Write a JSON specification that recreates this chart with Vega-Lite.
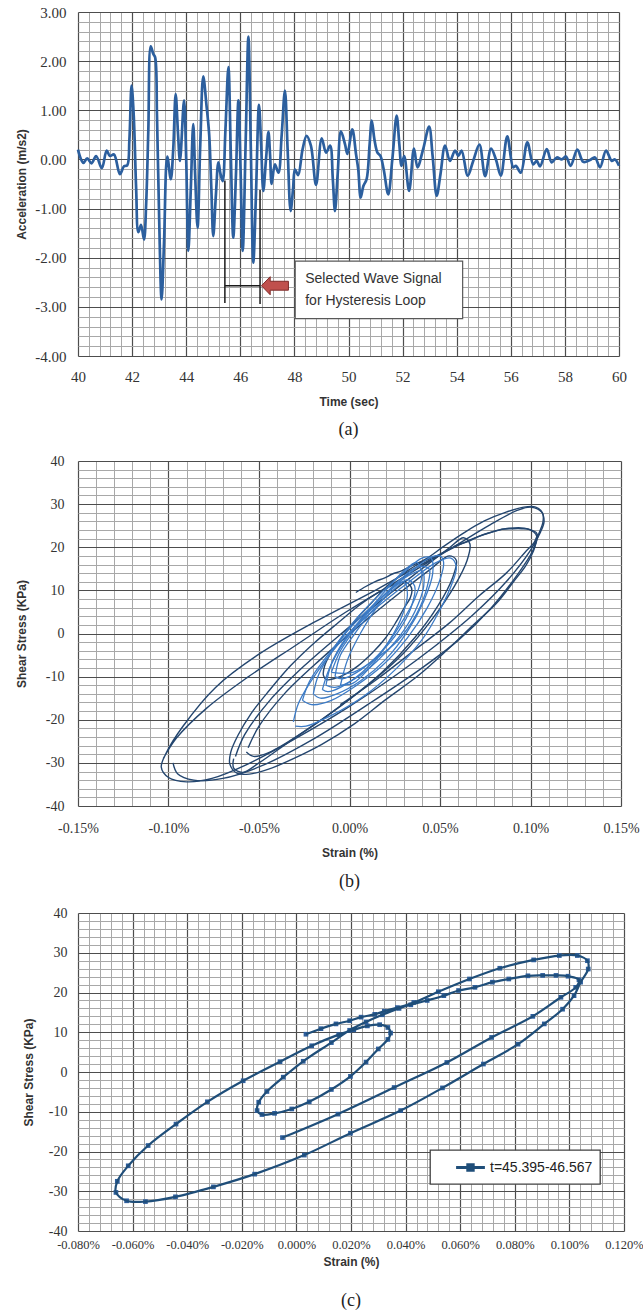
{
"$schema": "https://vega.github.io/schema/vega-lite/v6.json",
"background": "white",
"padding": {"left": 15, "top": 5, "right": 0, "bottom": 0},
"config": {"view": {"stroke": null}},
"datasets": {
"acc": [
{"t":40.00,"a":0.2},{"t":40.10,"a":0.02},{"t":40.20,"a":-0.07},{"t":40.34,"a":0.02},{"t":40.50,"a":-0.08},{"t":40.67,"a":0.07},{"t":40.88,"a":-0.18},{"t":41.06,"a":0.18},{"t":41.18,"a":0.07},{"t":41.33,"a":0.1},{"t":41.55,"a":-0.3},{"t":41.70,"a":-0.14},{"t":41.82,"a":-0.12},{"t":41.90,"a":0.4},{"t":41.98,"a":1.5},{"t":42.06,"a":0.9},{"t":42.15,"a":-0.6},{"t":42.23,"a":-1.48},{"t":42.33,"a":-1.33},{"t":42.44,"a":-1.63},{"t":42.52,"a":-0.9},{"t":42.60,"a":0.6},{"t":42.69,"a":2.3},{"t":42.78,"a":2.15},{"t":42.85,"a":2.08},{"t":42.92,"a":0.9},{"t":43.00,"a":-1.2},{"t":43.09,"a":-2.85},{"t":43.18,"a":-1.7},{"t":43.30,"a":0.06},{"t":43.43,"a":-0.4},{"t":43.52,"a":0.2},{"t":43.61,"a":1.33},{"t":43.70,"a":0.5},{"t":43.77,"a":-0.03},{"t":43.92,"a":1.2},{"t":44.00,"a":0.0},{"t":44.08,"a":-1.86},{"t":44.17,"a":-0.6},{"t":44.26,"a":0.72},{"t":44.33,"a":-0.3},{"t":44.42,"a":-1.39},{"t":44.52,"a":0.3},{"t":44.63,"a":1.69},{"t":44.75,"a":1.1},{"t":44.85,"a":0.5},{"t":44.93,"a":-0.6},{"t":45.00,"a":-1.56},{"t":45.10,"a":-0.7},{"t":45.19,"a":-0.06},{"t":45.27,"a":-0.3},{"t":45.35,"a":-0.44},{"t":45.45,"a":0.6},{"t":45.56,"a":1.88},{"t":45.65,"a":0.1},{"t":45.74,"a":-1.59},{"t":45.84,"a":-0.3},{"t":45.93,"a":1.2},{"t":46.01,"a":-0.2},{"t":46.09,"a":-1.86},{"t":46.20,"a":0.4},{"t":46.30,"a":2.5},{"t":46.39,"a":0.2},{"t":46.48,"a":-2.1},{"t":46.58,"a":-0.7},{"t":46.69,"a":1.11},{"t":46.77,"a":0.3},{"t":46.85,"a":-0.64},{"t":46.95,"a":0.0},{"t":47.04,"a":0.56},{"t":47.10,"a":0.1},{"t":47.16,"a":-0.5},{"t":47.28,"a":-0.1},{"t":47.41,"a":-0.27},{"t":47.53,"a":0.5},{"t":47.65,"a":1.4},{"t":47.75,"a":0.2},{"t":47.86,"a":-1.05},{"t":47.95,"a":-0.6},{"t":48.02,"a":-0.2},{"t":48.14,"a":-0.32},{"t":48.30,"a":0.2},{"t":48.45,"a":0.48},{"t":48.61,"a":0.28},{"t":48.80,"a":-0.52},{"t":49.01,"a":0.43},{"t":49.17,"a":0.14},{"t":49.32,"a":0.28},{"t":49.42,"a":-0.4},{"t":49.50,"a":-1.05},{"t":49.60,"a":-0.3},{"t":49.72,"a":0.57},{"t":49.87,"a":0.31},{"t":49.96,"a":0.11},{"t":50.14,"a":0.61},{"t":50.28,"a":0.1},{"t":50.36,"a":-0.2},{"t":50.45,"a":-0.78},{"t":50.55,"a":-0.54},{"t":50.67,"a":-0.4},{"t":50.78,"a":0.3},{"t":50.86,"a":0.79},{"t":50.96,"a":0.4},{"t":51.07,"a":0.14},{"t":51.18,"a":0.07},{"t":51.30,"a":-0.2},{"t":51.47,"a":-0.71},{"t":51.62,"a":0.0},{"t":51.78,"a":0.89},{"t":51.88,"a":0.3},{"t":51.96,"a":-0.13},{"t":52.06,"a":0.07},{"t":52.24,"a":-0.64},{"t":52.42,"a":0.22},{"t":52.55,"a":-0.16},{"t":52.76,"a":0.21},{"t":52.98,"a":0.67},{"t":53.11,"a":0.07},{"t":53.26,"a":-0.74},{"t":53.40,"a":-0.3},{"t":53.57,"a":0.28},{"t":53.75,"a":-0.03},{"t":53.94,"a":0.18},{"t":54.06,"a":0.07},{"t":54.18,"a":0.18},{"t":54.41,"a":-0.33},{"t":54.61,"a":-0.03},{"t":54.84,"a":0.3},{"t":55.05,"a":-0.34},{"t":55.27,"a":0.22},{"t":55.45,"a":0.0},{"t":55.63,"a":-0.33},{"t":55.87,"a":0.47},{"t":56.09,"a":-0.16},{"t":56.19,"a":-0.13},{"t":56.37,"a":-0.27},{"t":56.61,"a":0.35},{"t":56.83,"a":-0.1},{"t":56.96,"a":-0.03},{"t":57.08,"a":-0.14},{"t":57.33,"a":0.21},{"t":57.51,"a":-0.06},{"t":57.70,"a":0.04},{"t":57.88,"a":0.0},{"t":58.04,"a":0.06},{"t":58.21,"a":-0.13},{"t":58.46,"a":0.2},{"t":58.68,"a":-0.05},{"t":58.93,"a":-0.01},{"t":59.11,"a":0.04},{"t":59.30,"a":-0.16},{"t":59.52,"a":0.18},{"t":59.73,"a":-0.03},{"t":59.85,"a":0.0},{"t":60.00,"a":-0.13}
],
"bracket": [
{"t1":45.43,"t2":45.43,"a1":-0.43,"a2":-2.92},
{"t1":46.73,"t2":46.73,"a1":-0.62,"a2":-2.94},
{"t1":45.43,"t2":46.73,"a1":-2.57,"a2":-2.57}
],
"arrow": [{"t":47.28,"a":-2.57}],
"box": [{"t1":48.03,"t2":54.22,"a1":-2.07,"a2":-3.24}],
"boxtext": [{"t":48.4,"a":-2.43,"label":"Selected Wave Signal"},{"t":48.4,"a":-2.88,"label":"for Hysteresis Loop"}],
"b_big": [
{"k":"L1","x":-0.1029,"y":-29.0},{"k":"L1","x":-0.0955,"y":-24.2},{"k":"L1","x":-0.0789,"y":-17.3},{"k":"L1","x":-0.0568,"y":-10.3},{"k":"L1","x":-0.0292,"y":-2.6},{"k":"L1","x":-0.0015,"y":5.1},{"k":"L1","x":0.0261,"y":12.1},{"k":"L1","x":0.0537,"y":19.1},{"k":"L1","x":0.0776,"y":25.2},{"k":"L1","x":0.0930,"y":28.6},{"k":"L1","x":0.1000,"y":29.3},{"k":"L1","x":0.1060,"y":28.2},{"k":"L1","x":0.1075,"y":26.0},{"k":"L1","x":0.1055,"y":23.5},{"k":"L1","x":0.0997,"y":19.1},{"k":"L1","x":0.0868,"y":12.1},{"k":"L1","x":0.0684,"y":4.4},{"k":"L1","x":0.0482,"y":-2.6},{"k":"L1","x":0.0261,"y":-9.5},{"k":"L1","x":-0.0015,"y":-17.3},{"k":"L1","x":-0.0292,"y":-24.2},{"k":"L1","x":-0.0568,"y":-30.4},{"k":"L1","x":-0.0760,"y":-33.6},{"k":"L1","x":-0.0900,"y":-34.4},{"k":"L1","x":-0.1000,"y":-33.4},{"k":"L1","x":-0.1040,"y":-31.0},{"k":"L1","x":-0.1010,"y":-27.5},{"k":"L1","x":-0.0920,"y":-21.5},{"k":"L1","x":-0.0740,"y":-12.5},{"k":"L1","x":-0.0500,"y":-4.8},{"k":"L1","x":-0.0200,"y":2.5},{"k":"L1","x":0.0150,"y":10.2},{"k":"L1","x":0.0450,"y":17.2},{"k":"L1","x":0.0700,"y":22.3},{"k":"L1","x":0.0880,"y":24.4},{"k":"L1","x":0.0990,"y":24.2},{"k":"L1","x":0.1035,"y":22.5},{"k":"L1","x":0.1010,"y":19.0},{"k":"L1","x":0.0920,"y":13.2},{"k":"L1","x":0.0780,"y":5.8},{"k":"L1","x":0.0600,"y":-1.6},{"k":"L1","x":0.0380,"y":-8.6},{"k":"L1","x":0.0100,"y":-16.5},{"k":"L1","x":-0.0200,"y":-24.5},{"k":"L1","x":-0.0480,"y":-30.6},{"k":"L1","x":-0.0700,"y":-33.6},{"k":"L1","x":-0.0860,"y":-34.0},{"k":"L1","x":-0.0950,"y":-32.5},{"k":"L1","x":-0.0975,"y":-30.0},
{"k":"M2","x":-0.063,"y":-28.5},{"k":"M2","x":-0.058,"y":-23.5},{"k":"M2","x":-0.044,"y":-15.5},{"k":"M2","x":-0.025,"y":-7.5},{"k":"M2","x":-0.003,"y":0.5},{"k":"M2","x":0.020,"y":8.5},{"k":"M2","x":0.040,"y":15.0},{"k":"M2","x":0.055,"y":19.8},{"k":"M2","x":0.063,"y":22.2},{"k":"M2","x":0.0665,"y":20.8},{"k":"M2","x":0.065,"y":17.0},{"k":"M2","x":0.058,"y":11.0},{"k":"M2","x":0.046,"y":3.5},{"k":"M2","x":0.030,"y":-4.5},{"k":"M2","x":0.010,"y":-12.0},{"k":"M2","x":-0.012,"y":-19.0},{"k":"M2","x":-0.033,"y":-25.0},{"k":"M2","x":-0.050,"y":-30.0},{"k":"M2","x":-0.059,"y":-32.2},{"k":"M2","x":-0.064,"y":-31.2},{"k":"M2","x":-0.064,"y":-29.0},
{"k":"M3","x":-0.056,"y":-26.5},{"k":"M3","x":-0.050,"y":-21.5},{"k":"M3","x":-0.036,"y":-14.0},{"k":"M3","x":-0.016,"y":-6.0},{"k":"M3","x":0.006,"y":2.0},{"k":"M3","x":0.028,"y":9.5},{"k":"M3","x":0.045,"y":15.0},{"k":"M3","x":0.055,"y":18.0},{"k":"M3","x":0.059,"y":17.0},{"k":"M3","x":0.057,"y":13.0},{"k":"M3","x":0.049,"y":6.5},{"k":"M3","x":0.036,"y":-1.0},{"k":"M3","x":0.018,"y":-9.0},{"k":"M3","x":-0.004,"y":-16.5},{"k":"M3","x":-0.026,"y":-23.0},{"k":"M3","x":-0.044,"y":-27.5},{"k":"M3","x":-0.053,"y":-28.5},{"k":"M3","x":-0.057,"y":-27.5}
],
"b_small": [
{"k":"S1","x":-0.031,"y":-20.5},{"k":"S1","x":-0.028,"y":-16.0},{"k":"S1","x":-0.018,"y":-9.0},{"k":"S1","x":-0.003,"y":-1.0},{"k":"S1","x":0.015,"y":6.0},{"k":"S1","x":0.033,"y":12.0},{"k":"S1","x":0.048,"y":16.5},{"k":"S1","x":0.056,"y":17.5},{"k":"S1","x":0.059,"y":15.5},{"k":"S1","x":0.057,"y":12.0},{"k":"S1","x":0.050,"y":5.5},{"k":"S1","x":0.040,"y":-1.5},{"k":"S1","x":0.025,"y":-8.5},{"k":"S1","x":0.008,"y":-14.5},{"k":"S1","x":-0.010,"y":-19.0},{"k":"S1","x":-0.024,"y":-21.5},{"k":"S1","x":-0.030,"y":-21.5},
{"k":"S2","x":-0.026,"y":-15.5},{"k":"S2","x":-0.022,"y":-11.0},{"k":"S2","x":-0.012,"y":-5.0},{"k":"S2","x":0.002,"y":2.0},{"k":"S2","x":0.018,"y":8.5},{"k":"S2","x":0.032,"y":13.5},{"k":"S2","x":0.044,"y":17.5},{"k":"S2","x":0.050,"y":18.0},{"k":"S2","x":0.052,"y":16.5},{"k":"S2","x":0.050,"y":12.5},{"k":"S2","x":0.043,"y":6.0},{"k":"S2","x":0.032,"y":-1.0},{"k":"S2","x":0.018,"y":-7.5},{"k":"S2","x":0.004,"y":-12.0},{"k":"S2","x":-0.010,"y":-15.5},{"k":"S2","x":-0.021,"y":-16.5},{"k":"S2","x":-0.026,"y":-15.5},
{"k":"S3","x":-0.020,"y":-14.0},{"k":"S3","x":-0.017,"y":-9.5},{"k":"S3","x":-0.008,"y":-3.0},{"k":"S3","x":0.005,"y":4.0},{"k":"S3","x":0.019,"y":10.0},{"k":"S3","x":0.031,"y":14.5},{"k":"S3","x":0.040,"y":17.5},{"k":"S3","x":0.045,"y":17.5},{"k":"S3","x":0.046,"y":14.0},{"k":"S3","x":0.041,"y":7.5},{"k":"S3","x":0.032,"y":0.5},{"k":"S3","x":0.020,"y":-6.0},{"k":"S3","x":0.006,"y":-11.0},{"k":"S3","x":-0.007,"y":-14.0},{"k":"S3","x":-0.016,"y":-15.0},{"k":"S3","x":-0.020,"y":-14.0},
{"k":"C1","x":-0.013,"y":-12.0},{"k":"C1","x":-0.010,"y":-7.0},{"k":"C1","x":-0.002,"y":-1.0},{"k":"C1","x":0.010,"y":5.0},{"k":"C1","x":0.022,"y":10.0},{"k":"C1","x":0.033,"y":13.5},{"k":"C1","x":0.040,"y":14.5},{"k":"C1","x":0.041,"y":11.0},{"k":"C1","x":0.036,"y":5.0},{"k":"C1","x":0.027,"y":-1.0},{"k":"C1","x":0.015,"y":-6.5},{"k":"C1","x":0.003,"y":-10.5},{"k":"C1","x":-0.008,"y":-12.5},{"k":"C1","x":-0.013,"y":-12.0},
{"k":"C2","x":-0.008,"y":-10.0},{"k":"C2","x":-0.005,"y":-5.0},{"k":"C2","x":0.003,"y":0.0},{"k":"C2","x":0.013,"y":5.5},{"k":"C2","x":0.024,"y":10.0},{"k":"C2","x":0.032,"y":12.5},{"k":"C2","x":0.036,"y":11.0},{"k":"C2","x":0.034,"y":6.0},{"k":"C2","x":0.027,"y":0.5},{"k":"C2","x":0.017,"y":-4.5},{"k":"C2","x":0.006,"y":-8.5},{"k":"C2","x":-0.004,"y":-10.5},{"k":"C2","x":-0.008,"y":-10.0},
{"k":"C3","x":-0.015,"y":-13.0},{"k":"C3","x":-0.011,"y":-8.0},{"k":"C3","x":-0.003,"y":-2.0},{"k":"C3","x":0.008,"y":4.0},{"k":"C3","x":0.020,"y":10.0},{"k":"C3","x":0.030,"y":14.5},{"k":"C3","x":0.037,"y":16.5},{"k":"C3","x":0.040,"y":14.0},{"k":"C3","x":0.036,"y":8.0},{"k":"C3","x":0.028,"y":2.0},{"k":"C3","x":0.018,"y":-4.0},{"k":"C3","x":0.007,"y":-9.0},{"k":"C3","x":-0.005,"y":-12.5},{"k":"C3","x":-0.012,"y":-13.5},{"k":"C3","x":-0.015,"y":-13.0},
{"k":"C4","x":-0.005,"y":-12.0},{"k":"C4","x":-0.001,"y":-6.0},{"k":"C4","x":0.006,"y":0.0},{"k":"C4","x":0.015,"y":6.0},{"k":"C4","x":0.024,"y":10.5},{"k":"C4","x":0.030,"y":12.0},{"k":"C4","x":0.032,"y":9.0},{"k":"C4","x":0.028,"y":3.0},{"k":"C4","x":0.020,"y":-3.0},{"k":"C4","x":0.011,"y":-8.0},{"k":"C4","x":0.002,"y":-11.5},{"k":"C4","x":-0.005,"y":-12.0},
{"k":"C5","x":-0.010,"y":-9.0},{"k":"C5","x":-0.005,"y":-4.0},{"k":"C5","x":0.004,"y":1.5},{"k":"C5","x":0.016,"y":7.5},{"k":"C5","x":0.028,"y":12.5},{"k":"C5","x":0.038,"y":15.5},{"k":"C5","x":0.044,"y":15.0},{"k":"C5","x":0.043,"y":11.0},{"k":"C5","x":0.037,"y":4.5},{"k":"C5","x":0.027,"y":-1.5},{"k":"C5","x":0.014,"y":-6.0},{"k":"C5","x":0.002,"y":-9.0},{"k":"C5","x":-0.010,"y":-9.0}
],
"c_path": [
{"x":-0.0051,"y":-16.5},{"x":0.0152,"y":-10.6},{"x":0.0358,"y":-3.9},{"x":0.0551,"y":2.4},{"x":0.0715,"y":8.7},{"x":0.0866,"y":14.0},{"x":0.0969,"y":18.8},{"x":0.1023,"y":21.3},{"x":0.1035,"y":23.2},{"x":0.0995,"y":24.1},{"x":0.0951,"y":24.3},{"x":0.0902,"y":24.3},{"x":0.0848,"y":24.2},{"x":0.0778,"y":23.4},{"x":0.0718,"y":22.6},{"x":0.0654,"y":21.3},{"x":0.0594,"y":20.5},{"x":0.054,"y":19.2},{"x":0.0479,"y":18.0},{"x":0.0419,"y":16.9},{"x":0.0376,"y":16.0},{"x":0.0315,"y":14.4},{"x":0.0255,"y":12.6},{"x":0.0195,"y":10.5},{"x":0.0128,"y":7.4},{"x":0.0025,"y":2.7},{"x":-0.0048,"y":-1.3},{"x":-0.0108,"y":-4.9},{"x":-0.0138,"y":-7.6},{"x":-0.0144,"y":-9.7},{"x":-0.0126,"y":-10.7},{"x":-0.0080,"y":-10.4},{"x":-0.0017,"y":-9.3},{"x":0.0047,"y":-7.5},{"x":0.0128,"y":-4.4},{"x":0.0198,"y":-1.1},{"x":0.0255,"y":2.5},{"x":0.0300,"y":5.8},{"x":0.0335,"y":8.2},{"x":0.0345,"y":9.8},{"x":0.0335,"y":11.2},{"x":0.0305,"y":11.9},{"x":0.0260,"y":11.6},{"x":0.0210,"y":10.6},{"x":0.0155,"y":9.4},{"x":0.0056,"y":6.6},{"x":-0.0060,"y":2.6},{"x":-0.0195,"y":-2.2},{"x":-0.0326,"y":-7.5},{"x":-0.0441,"y":-13.1},{"x":-0.0543,"y":-18.5},{"x":-0.0616,"y":-23.6},{"x":-0.0656,"y":-27.5},{"x":-0.0661,"y":-30.3},{"x":-0.0622,"y":-32.4},{"x":-0.0553,"y":-32.6},{"x":-0.0443,"y":-31.4},{"x":-0.0304,"y":-28.9},{"x":-0.0153,"y":-25.7},{"x":0.0029,"y":-20.9},{"x":0.0198,"y":-15.4},{"x":0.0382,"y":-9.7},{"x":0.0535,"y":-4.0},{"x":0.0685,"y":2.0},{"x":0.0812,"y":7.0},{"x":0.0908,"y":12.1},{"x":0.0975,"y":15.8},{"x":0.1017,"y":19.2},{"x":0.1041,"y":22.6},{"x":0.1069,"y":25.9},{"x":0.1066,"y":28.0},{"x":0.1029,"y":29.3},{"x":0.0963,"y":29.3},{"x":0.0869,"y":28.2},{"x":0.0745,"y":26.1},{"x":0.0634,"y":23.4},{"x":0.0520,"y":20.2},{"x":0.0430,"y":17.5},{"x":0.0370,"y":16.2},{"x":0.0322,"y":15.3},{"x":0.0287,"y":14.5},{"x":0.0237,"y":13.8},{"x":0.0195,"y":12.9},{"x":0.0145,"y":12.1},{"x":0.0090,"y":10.9},{"x":0.0035,"y":9.5}
]
},
"columns": 1,
"align": "none",
"spacing": 15,
"resolve": {"scale": {"color": "independent"}, "legend": {"color": "independent"}},
"concat": [
{
"width": 541, "height": 344,
"title": {"text": "(a)", "orient": "bottom", "anchor": "middle", "frame": "group", "font": "Liberation Serif", "fontSize": 18, "fontWeight": "normal", "color": "#222222", "offset": 14},
"layer": [
{"data": {"name": "acc"},
 "mark": {"type": "line", "interpolate": "catmull-rom", "color": "#2C5F9E", "strokeWidth": 2.7},
 "encoding": {
  "x": {"field": "t", "type": "quantitative", "scale": {"domain": [40, 60], "nice": false, "zero": false},
   "axis": {"orient": "bottom", "values": [40,42,44,46,48,50,52,54,56,58,60], "grid": true, "gridColor": "#4d4d4d", "gridWidth": 1.2, "domain": false, "ticks": false, "labelPadding": 13, "labelFont": "Liberation Serif", "labelFontSize": 15, "labelColor": "#333333", "labelFlush": false, "labelOverlap": false, "labelExpr": "format(datum.value,'d')", "title": "Time (sec)", "titleFont": "Liberation Sans", "titleFontWeight": "bold", "titleFontSize": 12, "titleColor": "#333333", "titlePadding": 12}},
  "y": {"field": "a", "type": "quantitative", "scale": {"domain": [-4, 3], "nice": false, "zero": false},
   "axis": {"orient": "left", "values": [-4,-3,-2,-1,0,1,2,3], "grid": true, "gridColor": "#4d4d4d", "gridWidth": 1.2, "domain": false, "ticks": false, "labelPadding": 12, "labelFont": "Liberation Serif", "labelFontSize": 15, "labelColor": "#333333", "labelFlush": false, "labelOverlap": false, "labelExpr": "replace(format(datum.value,'.2f'),'\u2212','-')", "minExtent": 42, "maxExtent": 42, "title": "Acceleration (m/s2)", "titleFont": "Liberation Sans", "titleFontWeight": "bold", "titleFontSize": 12, "titleColor": "#333333", "titlePadding": 8}}
 }},
{"data": {"name": "bracket"},
 "mark": {"type": "rule", "color": "#1a1a1a", "strokeWidth": 1.5},
 "encoding": {
  "x": {"field": "t1", "type": "quantitative", "axis": {"orient": "bottom", "values": [40.4,40.8,41.2,41.6,42.4,42.8,43.2,43.6,44.4,44.8,45.2,45.6,46.4,46.8,47.2,47.6,48.4,48.8,49.2,49.6,50.4,50.8,51.2,51.6,52.4,52.8,53.2,53.6,54.4,54.8,55.2,55.6,56.4,56.8,57.2,57.6,58.4,58.8,59.2,59.6], "grid": true, "gridColor": "#a8a8a8", "gridWidth": 1, "labels": false, "ticks": false, "domain": false, "title": null}},
  "x2": {"field": "t2"},
  "y": {"field": "a1", "type": "quantitative", "axis": {"orient": "left", "values": [-3.8,-3.6,-3.4,-3.2,-2.8,-2.6,-2.4,-2.2,-1.8,-1.6,-1.4,-1.2,-0.8,-0.6,-0.4,-0.2,0.2,0.4,0.6,0.8,1.2,1.4,1.6,1.8,2.2,2.4,2.6,2.8], "grid": true, "gridColor": "#a8a8a8", "gridWidth": 1, "labels": false, "ticks": false, "domain": false, "title": null}},
  "y2": {"field": "a2"}
 }},
{"data": {"name": "arrow"},
 "mark": {"type": "point", "shape": "M-1,0L-0.35,-0.67L-0.35,-0.33L1,-0.33L1,0.33L-0.35,0.33L-0.35,0.67Z", "size": 729, "filled": true, "fill": "#C0504D", "stroke": "#7F2A28", "strokeWidth": 1, "opacity": 1},
 "encoding": {"x": {"field": "t", "type": "quantitative", "axis": null}, "y": {"field": "a", "type": "quantitative", "axis": null}}},
{"data": {"name": "box"},
 "mark": {"type": "rect", "fill": "white", "stroke": "#595959", "strokeWidth": 1.2},
 "encoding": {"x": {"field": "t1", "type": "quantitative", "axis": null}, "x2": {"field": "t2"}, "y": {"field": "a1", "type": "quantitative", "axis": null}, "y2": {"field": "a2"}}},
{"data": {"name": "boxtext"},
 "mark": {"type": "text", "align": "left", "baseline": "middle", "font": "Liberation Sans", "fontSize": 14, "color": "#333333"},
 "encoding": {"x": {"field": "t", "type": "quantitative", "axis": null}, "y": {"field": "a", "type": "quantitative", "axis": null}, "text": {"field": "label"}}}
],
"resolve": {"axis": {"x": "independent", "y": "independent"}}
},
{
"width": 543, "height": 345,
"title": {"text": "(b)", "orient": "bottom", "anchor": "middle", "frame": "group", "font": "Liberation Serif", "fontSize": 18, "fontWeight": "normal", "color": "#222222", "offset": 15},
"layer": [
{"data": {"name": "b_big"},
 "mark": {"type": "line", "interpolate": "catmull-rom", "color": "#24466F", "strokeWidth": 1.4},
 "encoding": {
  "x": {"field": "x", "type": "quantitative", "scale": {"domain": [-0.15, 0.15], "nice": false, "zero": false},
   "axis": {"orient": "bottom", "values": [-0.14,-0.13,-0.12,-0.11,-0.09,-0.08,-0.07,-0.06,-0.04,-0.03,-0.02,-0.01,0.01,0.02,0.03,0.04,0.06,0.07,0.08,0.09,0.11,0.12,0.13,0.14], "grid": true, "gridColor": "#a8a8a8", "gridWidth": 1, "labels": false, "ticks": false, "domain": false, "title": null}},
  "y": {"field": "y", "type": "quantitative", "scale": {"domain": [-40, 40], "nice": false, "zero": false},
   "axis": {"orient": "left", "values": [-38,-36,-34,-32,-28,-26,-24,-22,-18,-16,-14,-12,-8,-6,-4,-2,2,4,6,8,12,14,16,18,22,24,26,28,32,34,36,38], "grid": true, "gridColor": "#a8a8a8", "gridWidth": 1, "labels": false, "ticks": false, "domain": false, "title": null}},
  "detail": {"field": "k"},
  "order": {"value": null}
 }},
{"data": {"name": "c_path"},
 "mark": {"type": "line", "interpolate": "catmull-rom", "color": "#24466F", "strokeWidth": 1.4},
 "encoding": {
  "x": {"field": "x", "type": "quantitative",
   "axis": {"orient": "bottom", "values": [-0.15,-0.1,-0.05,0,0.05,0.1,0.15], "grid": true, "gridColor": "#4d4d4d", "gridWidth": 1.2, "domain": false, "ticks": false, "labelPadding": 15, "labelFont": "Liberation Serif", "labelFontSize": 14, "labelColor": "#333333", "labelFlush": false, "labelOverlap": false, "labelExpr": "replace(format(datum.value,'.2f'),'\u2212','-')+'%'", "title": "Strain (%)", "titleFont": "Liberation Sans", "titleFontWeight": "bold", "titleFontSize": 12, "titleColor": "#333333", "titlePadding": 12}},
  "y": {"field": "y", "type": "quantitative",
   "axis": {"orient": "left", "values": [-40,-30,-20,-10,0,10,20,30,40], "grid": true, "gridColor": "#4d4d4d", "gridWidth": 1.2, "domain": false, "ticks": false, "labelPadding": 14, "labelFont": "Liberation Serif", "labelFontSize": 14, "labelColor": "#333333", "labelFlush": false, "labelOverlap": false, "labelExpr": "replace(format(datum.value,'d'),'\u2212','-')", "minExtent": 42, "maxExtent": 42, "title": "Shear Stress (KPa)", "titleFont": "Liberation Sans", "titleFontWeight": "bold", "titleFontSize": 12, "titleColor": "#333333", "titlePadding": 8}},
  "order": {"value": null}
 }},
{"data": {"name": "b_small"},
 "mark": {"type": "line", "interpolate": "catmull-rom", "color": "#3C7BC6", "strokeWidth": 1.3},
 "encoding": {
  "x": {"field": "x", "type": "quantitative", "axis": null},
  "y": {"field": "y", "type": "quantitative", "axis": null},
  "detail": {"field": "k"},
  "order": {"value": null}
 }}
],
"resolve": {"axis": {"x": "independent", "y": "independent"}}
},
{
"width": 546, "height": 318,
"title": {"text": "(c)", "orient": "bottom", "anchor": "middle", "frame": "group", "font": "Liberation Serif", "fontSize": 18, "fontWeight": "normal", "color": "#222222", "offset": 24},
"layer": [
{"data": {"name": "c_path"},
 "mark": {"type": "point", "shape": "square", "size": 22, "filled": true, "color": "#2E5E9C", "opacity": 1},
 "encoding": {
  "x": {"field": "x", "type": "quantitative", "scale": {"domain": [-0.08, 0.12], "nice": false, "zero": false},
   "axis": {"orient": "bottom", "values": [-0.076,-0.072,-0.068,-0.064,-0.056,-0.052,-0.048,-0.044,-0.036,-0.032,-0.028,-0.024,-0.016,-0.012,-0.008,-0.004,0.004,0.008,0.012,0.016,0.024,0.028,0.032,0.036,0.044,0.048,0.052,0.056,0.064,0.068,0.072,0.076,0.084,0.088,0.092,0.096,0.104,0.108,0.112,0.116], "grid": true, "gridColor": "#a8a8a8", "gridWidth": 1, "labels": false, "ticks": false, "domain": false, "title": null}},
  "y": {"field": "y", "type": "quantitative", "scale": {"domain": [-40, 40], "nice": false, "zero": false},
   "axis": {"orient": "left", "values": [-38,-36,-34,-32,-28,-26,-24,-22,-18,-16,-14,-12,-8,-6,-4,-2,2,4,6,8,12,14,16,18,22,24,26,28,32,34,36,38], "grid": true, "gridColor": "#a8a8a8", "gridWidth": 1, "labels": false, "ticks": false, "domain": false, "title": null}}
 }},
{"data": {"name": "c_path"},
 "mark": {"type": "line", "interpolate": "catmull-rom", "strokeWidth": 2.2},
 "encoding": {
  "x": {"field": "x", "type": "quantitative",
   "axis": {"orient": "bottom", "values": [-0.08,-0.06,-0.04,-0.02,0,0.02,0.04,0.06,0.08,0.1,0.12], "grid": true, "gridColor": "#4d4d4d", "gridWidth": 1.2, "domain": false, "ticks": false, "labelPadding": 7, "labelFont": "Liberation Serif", "labelFontSize": 12.5, "labelColor": "#333333", "labelFlush": false, "labelOverlap": false, "labelExpr": "replace(format(datum.value,'.3f'),'\u2212','-')+'%'", "title": "Strain (%)", "titleFont": "Liberation Sans", "titleFontWeight": "bold", "titleFontSize": 12, "titleColor": "#333333", "titlePadding": 6}},
  "y": {"field": "y", "type": "quantitative",
   "axis": {"orient": "left", "values": [-40,-30,-20,-10,0,10,20,30,40], "grid": true, "gridColor": "#4d4d4d", "gridWidth": 1.2, "domain": false, "ticks": false, "labelPadding": 11, "labelFont": "Liberation Serif", "labelFontSize": 14, "labelColor": "#333333", "labelFlush": false, "labelOverlap": false, "labelExpr": "replace(format(datum.value,'d'),'\u2212','-')", "minExtent": 35, "maxExtent": 35, "title": "Shear Stress (KPa)", "titleFont": "Liberation Sans", "titleFontWeight": "bold", "titleFontSize": 12, "titleColor": "#333333", "titlePadding": 8}},
  "color": {"datum": "t=45.395-46.567", "type": "nominal", "scale": {"range": ["#1F4E79"]},
   "legend": {"orient": "none", "legendX": 352, "legendY": 237, "title": null, "padding": 7, "fillColor": "white", "strokeColor": "#404040", "labelFont": "Liberation Sans", "labelFontSize": 14, "labelColor": "#222222", "labelOffset": 9, "symbolOffset": 23, "symbolType": "M-1.6,0L1.6,0M-0.3,-0.3L0.3,-0.3L0.3,0.3L-0.3,0.3Z", "symbolSize": 324, "symbolStrokeWidth": 3, "symbolStrokeColor": "#1F4E79", "symbolFillColor": "#2E5E9C",
    "encode": {"legend": {"update": {"strokeWidth": {"value": 1.3}}}, "symbols": {"update": {"fill": {"value": "#2E5E9C"}, "stroke": {"value": "#1F4E79"}, "strokeWidth": {"value": 3}}}}}},
  "order": {"value": null}
 }}
],
"resolve": {"axis": {"x": "independent", "y": "independent"}}
}
]
}
